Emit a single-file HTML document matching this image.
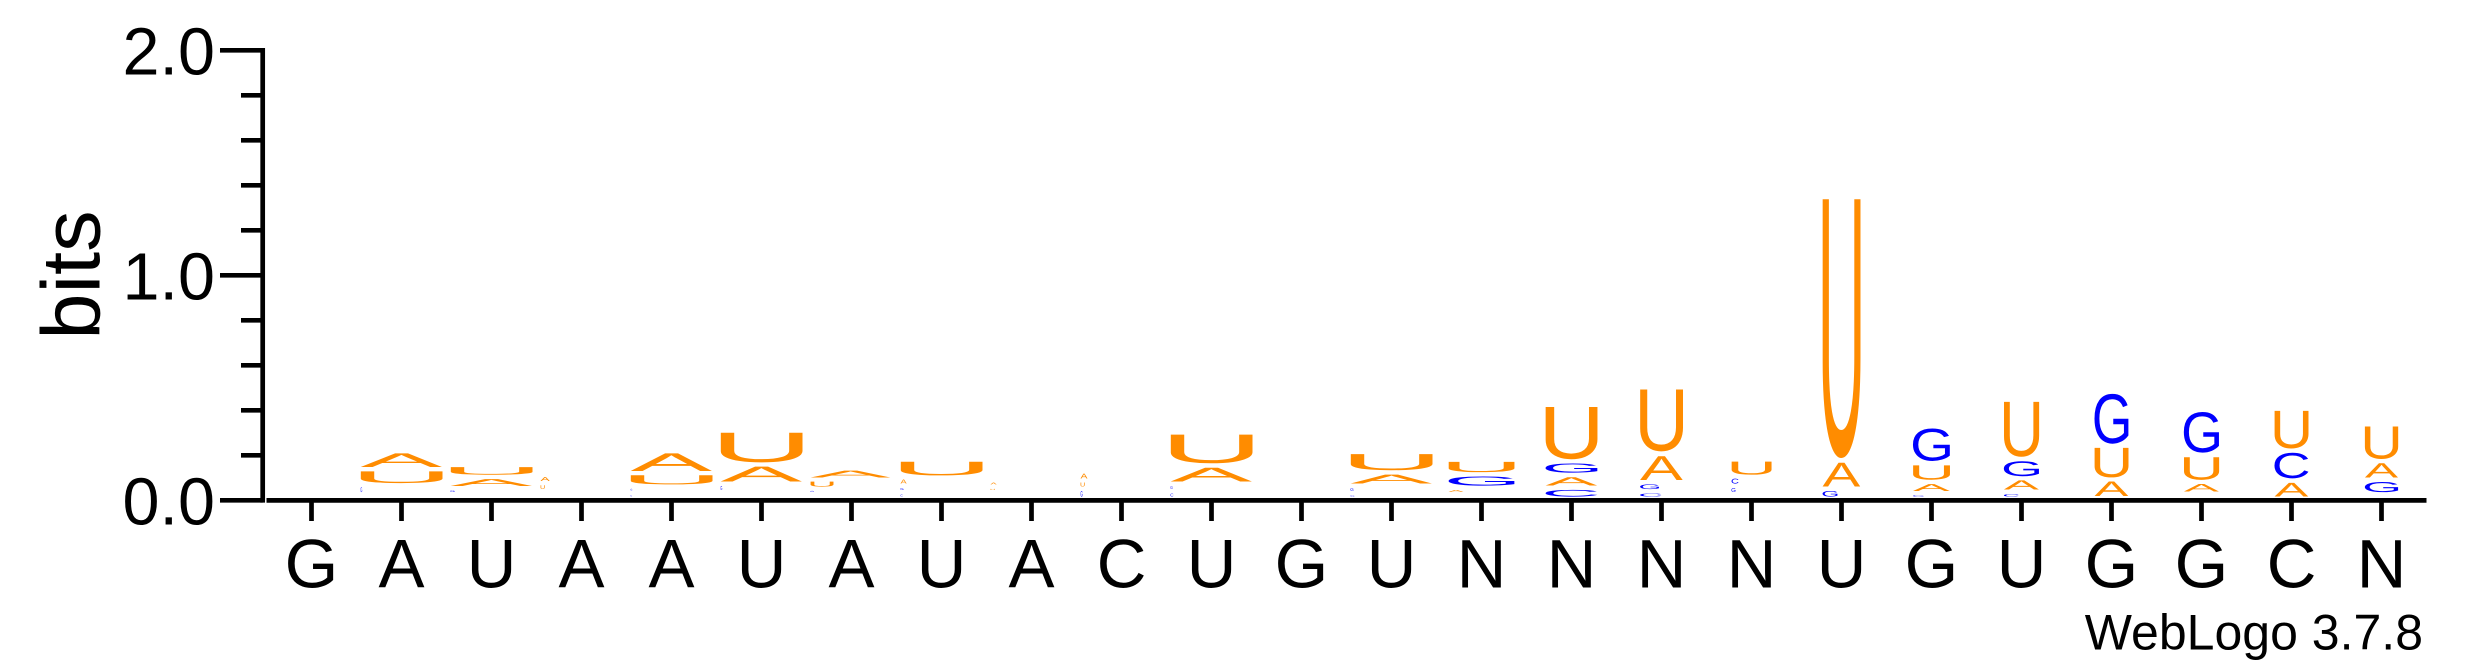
<!DOCTYPE html>
<html lang="en">
<head>
<meta charset="utf-8">
<title>WebLogo sequence logo</title>
<style>
  html, body { margin: 0; padding: 0; background: #ffffff; }
  body { width: 2475px; height: 667px; overflow: hidden; }
  svg { display: block; }
  text { font-family: "Liberation Sans", sans-serif; fill: #000000; }
  .logo-letter { text-rendering: geometricPrecision; }
</style>
</head>
<body>
<svg id="chart" xmlns="http://www.w3.org/2000/svg" width="2475" height="667" viewBox="0 0 2475 667">
  <rect x="0" y="0" width="2475" height="667" fill="#ffffff"/>
  <g id="letters"></g>
  <g id="y-axis"></g>
  <g id="x-axis"></g>
  <text transform="translate(99.5 275) rotate(-90)" font-size="83" text-anchor="middle">bits</text>
  <text x="2423" y="649.5" font-size="50" text-anchor="end">WebLogo 3.7.8</text>
</svg>
<script>
// Sequence position labels along the x axis
const positionLabels = ["G","A","U","A","A","U","A","U","A","C","U","G","U","N","N","N","N","U","G","U","G","G","C","N"];
// Y axis tick values
const yTickValues = [0, 0.2, 0.4, 0.6, 0.8, 1.0, 1.2, 1.4, 1.6, 1.8, 2.0];
const yTickLabels = ["0.0", "", "", "", "", "1.0", "", "", "", "", "2.0"];
// Column weight per position (fraction of non-gap sequences)
const columnWeights = [1, 1, 1, 1, 1, 1, 1, 1, 1, 1, 1, 1, 1, 0.805, 0.634, 0.524, 0.488, 0.463, 0.451, 0.43, 0.415, 0.43, 0.415, 0.407];
// Letters in each stack, bottom to top
const stackLetters = ["", "CGUA", "CGAU", "CUA", "CGUA", "CGAU", "CGUA", "CGAU", "CUA", "GUA", "CGAU", "", "CGAU", "CAGU", "CAGU", "CGAU", "CGCU", "GAU", "CAUG", "CAGU", "AUG", "CAUG", "ACU", "CGAU"];
// Information content (bits) for each letter in each stack
const stackBits = [
  [],
  [0.019, 0.04, 0.071, 0.08],
  [0.019, 0.027, 0.05, 0.053],
  [0.033, 0.036, 0.037],
  [0.026, 0.027, 0.06, 0.098],
  [0.028, 0.037, 0.086, 0.151],
  [0.019, 0.024, 0.041, 0.05],
  [0.028, 0.028, 0.037, 0.08],
  [0.028, 0.024, 0.028],
  [0.043, 0.037, 0.041],
  [0.033, 0.033, 0.081, 0.147],
  [],
  [0.024, 0.033, 0.059, 0.091],
  [0.019, 0.028, 0.06, 0.065],
  [0.049, 0.056, 0.06, 0.252],
  [0.033, 0.04, 0.126, 0.295],
  [0.019, 0.037, 0.041, 0.077],
  [0.044, 0.126, 1.173],
  [0.024, 0.05, 0.083, 0.164],
  [0.03, 0.06, 0.086, 0.264],
  [0.084, 0.151, 0.241],
  [0.021, 0.053, 0.12, 0.2],
  [0.08, 0.133, 0.187],
  [0.019, 0.064, 0.083, 0.164]
];
// Relative glyph weight for each letter (0 = too small to be visible)
const letterWeights = [
  [],
  [0, 0.02, 1, 1],
  [0, 0.05, 1, 1],
  [0, 0.05, 0.113],
  [0.02, 0.02, 1, 1],
  [0, 0.02, 1, 1],
  [0, 0.04, 0.28, 0.98],
  [0.025, 0.036, 0.075, 1],
  [0, 0.05, 0.075],
  [0.025, 0.05, 0.085],
  [0.035, 0.025, 1, 1],
  [],
  [0.05, 0.036, 1, 1],
  [0, 0.227, 1, 1],
  [1, 1, 1, 1],
  [0.5, 0.44, 1, 1],
  [0, 0.1, 0.175, 1],
  [0.395, 1, 1],
  [0.3, 1, 1, 1],
  [0.42, 1, 1, 1],
  [1, 1, 1],
  [0, 1, 1, 1],
  [1, 1, 1],
  [0, 1, 1, 1]
];
// Base colours
const baseColors = { A: "#ff8c00", U: "#ff8c00", G: "#0000ff", C: "#0000ff" };

const SVG_NS = "http://www.w3.org/2000/svg";
const xAxisScale = function (k) { return 311.5 + 90 * k; };
const yAxisScale = function (bits) { return 500.3 - 225 * bits; };
const stackFloor = function (bits) { return yAxisScale(bits) - 1.8; };
const CELL_WIDTH = 82;
const LETTER_INSET = 2.15;

const measureCtx = document.createElement("canvas").getContext("2d");
measureCtx.font = '200px "Liberation Sans"';
const inkCache = {};
function inkBox(ch) {
  if (!inkCache[ch]) {
    const m = measureCtx.measureText(ch);
    inkCache[ch] = { l: m.actualBoundingBoxLeft, r: m.actualBoundingBoxRight, a: m.actualBoundingBoxAscent, d: m.actualBoundingBoxDescent };
  }
  return inkCache[ch];
}

function makeLine(x1, y1, x2, y2, w) {
  const ln = document.createElementNS(SVG_NS, "line");
  ln.setAttribute("x1", x1);
  ln.setAttribute("y1", y1);
  ln.setAttribute("x2", x2);
  ln.setAttribute("y2", y2);
  ln.setAttribute("stroke", "#000000");
  ln.setAttribute("stroke-width", w);
  return ln;
}

// Stacks
const lettersGroup = document.getElementById("letters");
stackLetters.forEach(function (stack, k) {
  const group = document.createElementNS(SVG_NS, "g");
  
  
  const colWidth = CELL_WIDTH * columnWeights[k];
  const left = xAxisScale(k) - colWidth / 2;
  let cumulative = 0;
  stack.split("").forEach(function (ch, i) {
    const bits = stackBits[k][i];
    const bottom = stackFloor(cumulative) - LETTER_INSET;
    const top = stackFloor(cumulative + bits) + LETTER_INSET;
    cumulative += bits;
    const width = colWidth * letterWeights[k][i];
    const height = bottom - top;
    if (width <= 0 || height < 0.4) return;
    const ink = inkBox(ch);
    const sx = width / (ink.l + ink.r);
    const sy = height / (ink.a + ink.d);
    const t = document.createElementNS(SVG_NS, "text");
    t.setAttribute("class", "logo-letter");
    t.setAttribute("font-size", "200");
    t.setAttribute("style", "fill:" + baseColors[ch]);
    t.setAttribute("transform", "translate(" + (left + ink.l * sx) + " " + (bottom - ink.d * sy) + ") scale(" + sx + " " + sy + ")");
    
    
    t.textContent = ch;
    group.appendChild(t);
  });
  lettersGroup.appendChild(group);
});

// Y axis
const yAxisGroup = document.getElementById("y-axis");
const yAxisLine = makeLine(262.7, yAxisScale(2) - 2.35, 262.7, yAxisScale(0) + 2.35, 4.7);


yAxisGroup.appendChild(yAxisLine);
yTickValues.forEach(function (v, i) {
  const major = yTickLabels[i] !== "";
  const tick = makeLine(major ? 220 : 241, yAxisScale(v), 262.7, yAxisScale(v), 4.7);
  
  
  yAxisGroup.appendChild(tick);
  if (major) {
    const label = document.createElementNS(SVG_NS, "text");
    label.setAttribute("x", 215);
    label.setAttribute("y", yAxisScale(v) + 24);
    label.setAttribute("font-size", "66.5");
    label.setAttribute("text-anchor", "end");
    
    
    label.textContent = yTickLabels[i];
    yAxisGroup.appendChild(label);
  }
});

// X axis
const xAxisGroup = document.getElementById("x-axis");
const xAxisLine = makeLine(xAxisScale(0) - 45, 500.4, xAxisScale(positionLabels.length - 1) + 45, 500.4, 4.7);


xAxisGroup.appendChild(xAxisLine);
positionLabels.forEach(function (lab, k) {
  const tick = makeLine(xAxisScale(k), 500.4, xAxisScale(k), 521, 4.7);
  
  
  xAxisGroup.appendChild(tick);
  const label = document.createElementNS(SVG_NS, "text");
  label.setAttribute("x", xAxisScale(k));
  label.setAttribute("y", 587.7);
  label.setAttribute("font-size", "69");
  label.setAttribute("text-anchor", "middle");
  
  
  label.textContent = lab;
  xAxisGroup.appendChild(label);
});
</script>
</body>
</html>
